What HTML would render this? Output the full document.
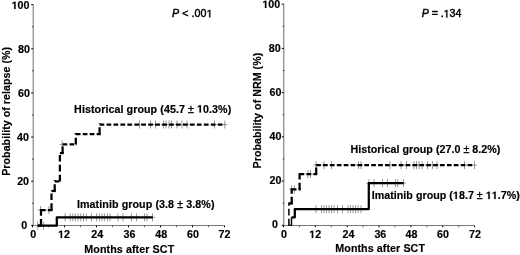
<!DOCTYPE html>
<html><head><meta charset="utf-8"><style>
html,body{margin:0;padding:0;background:#fff;}
body{width:520px;height:255px;overflow:hidden;}
svg{display:block;will-change:transform;}
text{font-family:"Liberation Sans", sans-serif;font-weight:bold;font-size:10.7px;fill:#000;stroke:#000;stroke-width:0.18px;}
</style></head><body>
<svg width="520" height="255" viewBox="0 0 520 255">
<rect width="520" height="255" fill="#fff"/>
<line x1="33.2" y1="4.6" x2="33.2" y2="225.9" stroke="#6e6e6e" stroke-width="1"/>
<line x1="32.5" y1="225.5" x2="224.5" y2="225.5" stroke="#7a7a7a" stroke-width="1"/>
<line x1="31.2" y1="225.4" x2="33.2" y2="225.4" stroke="#111" stroke-width="1.1"/>
<line x1="32.2" y1="203.32" x2="33.5" y2="203.32" stroke="#222" stroke-width="1"/>
<line x1="31.2" y1="181.24" x2="33.2" y2="181.24" stroke="#111" stroke-width="1.1"/>
<line x1="32.2" y1="159.16" x2="33.5" y2="159.16" stroke="#222" stroke-width="1"/>
<line x1="31.2" y1="137.08" x2="33.2" y2="137.08" stroke="#111" stroke-width="1.1"/>
<line x1="32.2" y1="115" x2="33.5" y2="115" stroke="#222" stroke-width="1"/>
<line x1="31.2" y1="92.92" x2="33.2" y2="92.92" stroke="#111" stroke-width="1.1"/>
<line x1="32.2" y1="70.84" x2="33.5" y2="70.84" stroke="#222" stroke-width="1"/>
<line x1="31.2" y1="48.76" x2="33.2" y2="48.76" stroke="#111" stroke-width="1.1"/>
<line x1="32.2" y1="26.68" x2="33.5" y2="26.68" stroke="#222" stroke-width="1"/>
<line x1="31.2" y1="4.6" x2="33.2" y2="4.6" stroke="#111" stroke-width="1.1"/>
<line x1="32.5" y1="225.5" x2="32.5" y2="227.3" stroke="#000" stroke-width="1"/>
<line x1="48.5" y1="225.5" x2="48.5" y2="227.3" stroke="#666" stroke-width="1"/>
<line x1="64.5" y1="225.5" x2="64.5" y2="227.3" stroke="#000" stroke-width="1"/>
<line x1="80.5" y1="225.5" x2="80.5" y2="227.3" stroke="#666" stroke-width="1"/>
<line x1="96.5" y1="225.5" x2="96.5" y2="227.3" stroke="#000" stroke-width="1"/>
<line x1="112.5" y1="225.5" x2="112.5" y2="227.3" stroke="#666" stroke-width="1"/>
<line x1="128.5" y1="225.5" x2="128.5" y2="227.3" stroke="#000" stroke-width="1"/>
<line x1="144.5" y1="225.5" x2="144.5" y2="227.3" stroke="#666" stroke-width="1"/>
<line x1="160.5" y1="225.5" x2="160.5" y2="227.3" stroke="#000" stroke-width="1"/>
<line x1="176.5" y1="225.5" x2="176.5" y2="227.3" stroke="#666" stroke-width="1"/>
<line x1="192.5" y1="225.5" x2="192.5" y2="227.3" stroke="#000" stroke-width="1"/>
<line x1="208.5" y1="225.5" x2="208.5" y2="227.3" stroke="#666" stroke-width="1"/>
<line x1="224.5" y1="225.5" x2="224.5" y2="227.3" stroke="#000" stroke-width="1"/>
<text x="27.1" y="228.7" text-anchor="end">0</text>
<text x="29.05" y="184.84" text-anchor="end">20</text>
<text x="29" y="140.88" text-anchor="end">40</text>
<text x="30" y="96.72" text-anchor="end">60</text>
<text x="30" y="52.56" text-anchor="end">80</text>
<text x="29.5" y="9" text-anchor="end"> 00</text>
<text x="33.25" y="238" text-anchor="middle">0</text>
<text x="64.1" y="238" text-anchor="middle"> 2</text>
<text x="97.3" y="238" text-anchor="middle">24</text>
<text x="129.55" y="238" text-anchor="middle">36</text>
<text x="161.15" y="238" text-anchor="middle">48</text>
<text x="192.95" y="238" text-anchor="middle">60</text>
<text x="224.5" y="238" text-anchor="middle">72</text>
<line x1="283.8" y1="4.2" x2="283.8" y2="225.8" stroke="#6e6e6e" stroke-width="1"/>
<line x1="283.5" y1="225.5" x2="474.6" y2="225.5" stroke="#7a7a7a" stroke-width="1"/>
<line x1="281.8" y1="225.3" x2="283.8" y2="225.3" stroke="#111" stroke-width="1.1"/>
<line x1="282.8" y1="203.19" x2="284.1" y2="203.19" stroke="#222" stroke-width="1"/>
<line x1="281.8" y1="181.08" x2="283.8" y2="181.08" stroke="#111" stroke-width="1.1"/>
<line x1="282.8" y1="158.97" x2="284.1" y2="158.97" stroke="#222" stroke-width="1"/>
<line x1="281.8" y1="136.86" x2="283.8" y2="136.86" stroke="#111" stroke-width="1.1"/>
<line x1="282.8" y1="114.75" x2="284.1" y2="114.75" stroke="#222" stroke-width="1"/>
<line x1="281.8" y1="92.64" x2="283.8" y2="92.64" stroke="#111" stroke-width="1.1"/>
<line x1="282.8" y1="70.53" x2="284.1" y2="70.53" stroke="#222" stroke-width="1"/>
<line x1="281.8" y1="48.42" x2="283.8" y2="48.42" stroke="#111" stroke-width="1.1"/>
<line x1="282.8" y1="26.31" x2="284.1" y2="26.31" stroke="#222" stroke-width="1"/>
<line x1="281.8" y1="4.2" x2="283.8" y2="4.2" stroke="#111" stroke-width="1.1"/>
<line x1="283.5" y1="225.5" x2="283.5" y2="227.3" stroke="#000" stroke-width="1"/>
<line x1="299.43" y1="225.5" x2="299.43" y2="227.3" stroke="#666" stroke-width="1"/>
<line x1="315.35" y1="225.5" x2="315.35" y2="227.3" stroke="#000" stroke-width="1"/>
<line x1="331.27" y1="225.5" x2="331.27" y2="227.3" stroke="#666" stroke-width="1"/>
<line x1="347.2" y1="225.5" x2="347.2" y2="227.3" stroke="#000" stroke-width="1"/>
<line x1="363.12" y1="225.5" x2="363.12" y2="227.3" stroke="#666" stroke-width="1"/>
<line x1="379.05" y1="225.5" x2="379.05" y2="227.3" stroke="#000" stroke-width="1"/>
<line x1="394.98" y1="225.5" x2="394.98" y2="227.3" stroke="#666" stroke-width="1"/>
<line x1="410.9" y1="225.5" x2="410.9" y2="227.3" stroke="#000" stroke-width="1"/>
<line x1="426.83" y1="225.5" x2="426.83" y2="227.3" stroke="#666" stroke-width="1"/>
<line x1="442.75" y1="225.5" x2="442.75" y2="227.3" stroke="#000" stroke-width="1"/>
<line x1="458.68" y1="225.5" x2="458.68" y2="227.3" stroke="#666" stroke-width="1"/>
<line x1="474.6" y1="225.5" x2="474.6" y2="227.3" stroke="#000" stroke-width="1"/>
<text x="278.05" y="228.3" text-anchor="end">0</text>
<text x="281.45" y="183.98" text-anchor="end">20</text>
<text x="281.4" y="140.06" text-anchor="end">40</text>
<text x="281.4" y="96.44" text-anchor="end">60</text>
<text x="280.7" y="52.22" text-anchor="end">80</text>
<text x="280.25" y="8" text-anchor="end"> 00</text>
<text x="284" y="238" text-anchor="middle">0</text>
<text x="315.2" y="238" text-anchor="middle"> 2</text>
<text x="348.4" y="238" text-anchor="middle">24</text>
<text x="380.35" y="238" text-anchor="middle">36</text>
<text x="411.4" y="238" text-anchor="middle">48</text>
<text x="442.95" y="238" text-anchor="middle">60</text>
<text x="474.95" y="238" text-anchor="middle">72</text>
<path d="M37.7 221.7V229.7M35.2 225.7H40.2M43.6 221.7V229.7M41.1 225.7H46.1M65.1 213.3V221.3M62.6 217.3H67.6M70.2 213.3V221.3M67.7 217.3H72.7M72.8 213.3V221.3M70.3 217.3H75.3M75.3 213.3V221.3M72.8 217.3H77.8M78.1 213.3V221.3M75.6 217.3H80.6M80.7 213.3V221.3M78.2 217.3H83.2M83.5 213.3V221.3M81 217.3H86M86.3 213.3V221.3M83.8 217.3H88.8M91.4 213.3V221.3M88.9 217.3H93.9M96.5 213.3V221.3M94 217.3H99M99.3 213.3V221.3M96.8 217.3H101.8M101.9 213.3V221.3M99.4 217.3H104.4M104.4 213.3V221.3M101.9 217.3H106.9M107.5 213.3V221.3M105 217.3H110M110 213.3V221.3M107.5 217.3H112.5M118 213.3V221.3M115.5 217.3H120.5M123 213.3V221.3M120.5 217.3H125.5M131.5 213.3V221.3M129 217.3H134M136.5 213.3V221.3M134 217.3H139M144.5 213.3V221.3M142 217.3H147M147 213.3V221.3M144.5 217.3H149.5M152.5 213.3V221.3M150 217.3H155" stroke="#888" stroke-width="0.85" fill="none"/>
<path d="M40.5 206V214M38 210H43M48.9 206V214M46.4 210H51.4M62.2 140.4V148.4M59.7 144.4H64.7M139.5 120.5V128.5M137 124.5H142M150.5 120.5V128.5M148 124.5H153M155.5 120.5V128.5M153 124.5H158M163.5 120.5V128.5M161 124.5H166M166 120.5V128.5M163.5 124.5H168.5M169 120.5V128.5M166.5 124.5H171.5M171.5 120.5V128.5M169 124.5H174M177 120.5V128.5M174.5 124.5H179.5M182 120.5V128.5M179.5 124.5H184.5M187 120.5V128.5M184.5 124.5H189.5M214.5 120.5V128.5M212 124.5H217M224.8 120.5V128.5M222.3 124.5H227.3" stroke="#888" stroke-width="0.85" fill="none"/>
<path d="M37.5 225.7H56.8V217.3H152.8" stroke="#000" stroke-width="2.25" fill="none" stroke-linejoin="round"/>
<g stroke="#000" stroke-width="2.25" fill="none"><path d="M38 225.6H42.12" stroke-dasharray="4.7 2.25"/><path d="M41 225.6V208.88" stroke-dasharray="6.7 3.21"/><path d="M41 210H52.62" stroke-dasharray="4.7 2.25"/><path d="M51.5 210V189.88" stroke-dasharray="6.7 3.21"/><path d="M51.5 191H55.83" stroke-dasharray="4.7 2.25"/><path d="M54.7 191V180.28" stroke-dasharray="6.7 3.21"/><path d="M54.7 181.4H61.02" stroke-dasharray="4.7 2.25"/><path d="M59.9 181.4V151.97" stroke-dasharray="6.7 3.21"/><path d="M59.9 153.1H63.73" stroke-dasharray="4.7 2.25"/><path d="M62.6 153.1V143.28" stroke-dasharray="6.7 3.21"/><path d="M62.6 144.4H76.92" stroke-dasharray="4.7 2.25"/><path d="M75.8 144.4V132.88" stroke-dasharray="6.7 3.21"/><path d="M75.8 134H100.72" stroke-dasharray="4.7 2.25"/><path d="M99.6 134V123.38" stroke-dasharray="6.7 3.21"/><path d="M99.6 124.5H224.8" stroke-dasharray="4.7 2.25"/></g>

<path d="M316 205.1V213.1M313.5 209.1H318.5M321.5 205.1V213.1M319 209.1H324M324 205.1V213.1M321.5 209.1H326.5M326.5 205.1V213.1M324 209.1H329M329 205.1V213.1M326.5 209.1H331.5M331.5 205.1V213.1M329 209.1H334M334 205.1V213.1M331.5 209.1H336.5M337.5 205.1V213.1M335 209.1H340M342.5 205.1V213.1M340 209.1H345M348 205.1V213.1M345.5 209.1H350.5M350.5 205.1V213.1M348 209.1H353M353 205.1V213.1M350.5 209.1H355.5M355.5 205.1V213.1M353 209.1H358M358 205.1V213.1M355.5 209.1H360.5M361 205.1V213.1M358.5 209.1H363.5M368.8 179.2V187.2M366.3 183.2H371.3M374 179.2V187.2M371.5 183.2H376.5M382.5 179.2V187.2M380 183.2H385M387.5 179.2V187.2M385 183.2H390M395.4 179.2V187.2M392.9 183.2H397.9M397.6 179.2V187.2M395.1 183.2H400.1M403.5 179.2V187.2M401 183.2H406" stroke="#888" stroke-width="0.85" fill="none"/>
<path d="M291.7 185.4V193.4M289.2 189.4H294.2M294.5 185.4V193.4M292 189.4H297M308 170.1V178.1M305.5 174.1H310.5M310.5 170.1V178.1M308 174.1H313M316 161.1V169.1M313.5 165.1H318.5M324 161.1V169.1M321.5 165.1H326.5M331.5 161.1V169.1M329 165.1H334M358.5 161.1V169.1M356 165.1H361M361 161.1V169.1M358.5 165.1H363.5M390 161.1V169.1M387.5 165.1H392.5M401 161.1V169.1M398.5 165.1H403.5M406.5 161.1V169.1M404 165.1H409M414 161.1V169.1M411.5 165.1H416.5M416.5 161.1V169.1M414 165.1H419M419 161.1V169.1M416.5 165.1H421.5M422 161.1V169.1M419.5 165.1H424.5M427.5 161.1V169.1M425 165.1H430M432.5 161.1V169.1M430 165.1H435M437 161.1V169.1M434.5 165.1H439.5M464.5 161.1V169.1M462 165.1H467M474.5 161.1V169.1M472 165.1H477" stroke="#888" stroke-width="0.85" fill="none"/>
<path d="M291.5 217.3H294.8V209.1H368.8V183.2H403.6" stroke="#000" stroke-width="2.25" fill="none" stroke-linejoin="round"/>
<g stroke="#000" stroke-width="2.25" fill="none"><path d="M288.9 225.3V202.38" stroke-dasharray="6.63 3.18" stroke-width="1.5"/><path d="M288.9 203.5H292.82" stroke-dasharray="4.65 2.23"/><path d="M291.7 203.5V188.28" stroke-dasharray="6.63 3.18"/><path d="M291.7 189.4H300.73" stroke-dasharray="4.65 2.23"/><path d="M299.6 189.4V172.97" stroke-dasharray="6.63 3.18"/><path d="M299.6 174.1H317.32" stroke-dasharray="4.65 2.23"/><path d="M316.2 174.1V163.97" stroke-dasharray="6.63 3.18"/><path d="M316.2 165.1H474.5" stroke-dasharray="4.65 2.23"/></g>
<path d="M291.5 225.4V217.3" stroke="#000" stroke-width="1.5" fill="none"/><path d="M288.6 225.3H291.8" stroke="#000" stroke-width="1.3" fill="none"/>
<text transform="translate(9.9 111.34) rotate(-90)" x="0" y="0" text-anchor="middle" textLength="128.95" lengthAdjust="spacing">Probability of relapse (%)</text>
<text transform="translate(260.8 110.57) rotate(-90)" x="0" y="0" text-anchor="middle" textLength="115.73" lengthAdjust="spacing">Probability of NRM (%)</text>
<text x="74.12" y="112.5" textLength="157.12" lengthAdjust="spacing">Historical group (45.7 <tspan style="font-weight:normal;stroke:#000;stroke-width:0.35px">±</tspan>  0.3%)</text>
<text x="76.92" y="207.5" textLength="137.58" lengthAdjust="spacing">Imatinib group (3.8 <tspan style="font-weight:normal;stroke:#000;stroke-width:0.35px">±</tspan> 3.8%)</text>
<text x="350.47" y="152.8" textLength="149.95" lengthAdjust="spacing">Historical group (27.0 <tspan style="font-weight:normal;stroke:#000;stroke-width:0.35px">±</tspan> 8.2%)</text>
<text x="371.66" y="199.1" textLength="148.16" lengthAdjust="spacing">Imatinib group ( 8.7 <tspan style="font-weight:normal;stroke:#000;stroke-width:0.35px">±</tspan>   .7%)</text>
<text x="84.36" y="252.6" textLength="89.8" lengthAdjust="spacing">Months after SCT</text>
<text x="335.3" y="252.3" textLength="89.62" lengthAdjust="spacing">Months after SCT</text>
<text x="171.89" y="17.3" textLength="40.65" lengthAdjust="spacing" style="font-weight:normal;stroke:#000;stroke-width:0.45px"><tspan font-style="italic">P</tspan> &lt; .00 </text>
<text x="421.67" y="17.4" textLength="39.68" lengthAdjust="spacing" style="font-weight:normal;stroke:#000;stroke-width:0.45px"><tspan font-style="italic">P</tspan> = . 34</text>
<path d="M14.15 9 L14.15 2.89 L12.39 3.99 L12.39 2.83 L14.23 1.64 L15.62 1.64 L15.62 9Z" fill="#000" stroke="#000" stroke-width="0.18"/>
<path d="M60.65 238 L60.65 231.89 L58.89 232.99 L58.89 231.83 L60.73 230.64 L62.12 230.64 L62.12 238Z" fill="#000" stroke="#000" stroke-width="0.18"/>
<path d="M264.9 8 L264.9 1.89 L263.14 2.99 L263.14 1.83 L264.98 0.64 L266.37 0.64 L266.37 8Z" fill="#000" stroke="#000" stroke-width="0.18"/>
<path d="M311.75 238 L311.75 231.89 L309.99 232.99 L309.99 231.83 L311.83 230.64 L313.22 230.64 L313.22 238Z" fill="#000" stroke="#000" stroke-width="0.18"/>
<path d="M199.5 112.5 L199.5 106.39 L197.74 107.49 L197.74 106.33 L199.58 105.14 L200.97 105.14 L200.97 112.5Z" fill="#000" stroke="#000" stroke-width="0.18"/>
<path d="M455.42 199.1 L455.42 192.99 L453.65 194.09 L453.65 192.93 L455.5 191.74 L456.89 191.74 L456.89 199.1Z" fill="#000" stroke="#000" stroke-width="0.18"/>
<path d="M488.27 199.1 L488.27 192.99 L486.51 194.09 L486.51 192.93 L488.35 191.74 L489.74 191.74 L489.74 199.1Z" fill="#000" stroke="#000" stroke-width="0.18"/>
<path d="M494.25 199.1 L494.25 192.99 L492.49 194.09 L492.49 192.93 L494.33 191.74 L495.72 191.74 L495.72 199.1Z" fill="#000" stroke="#000" stroke-width="0.18"/>
<path d="M209.28 17.3 L209.28 10.84 L207.62 12.02 L207.62 11.13 L209.36 9.94 L210.22 9.94 L210.22 17.3Z" fill="#000" stroke="#000" stroke-width="0.45"/>
<path d="M446.33 17.4 L446.33 10.94 L444.67 12.12 L444.67 11.23 L446.41 10.04 L447.28 10.04 L447.28 17.4Z" fill="#000" stroke="#000" stroke-width="0.45"/>
</svg>
</body></html>
